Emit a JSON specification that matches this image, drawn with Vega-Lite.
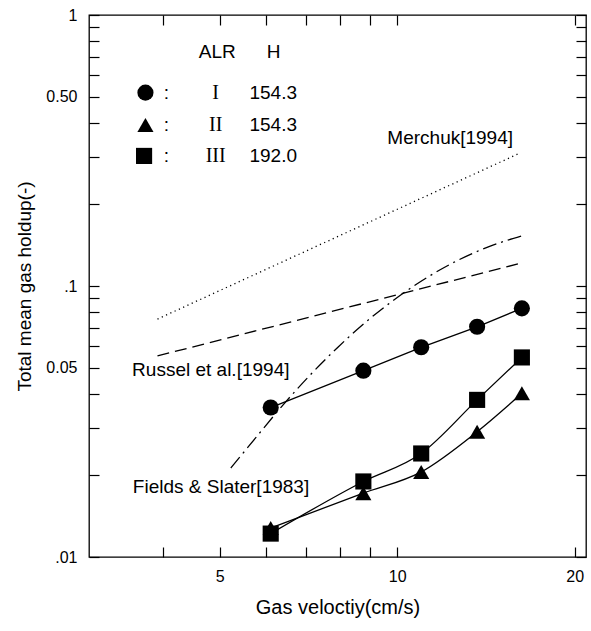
{
  "$schema": "https://vega.github.io/schema/vega-lite/v6.json",
  "width": 497,
  "height": 542,
  "autosize": {"type": "none"},
  "padding": {"left": 89, "top": 15, "right": 5, "bottom": 74},
  "background": "white",
  "config": {
    "view": {"stroke": "black", "strokeWidth": 1.3},
    "font": "Liberation Sans",
    "axis": {"grid": false, "domain": false, "tickColor": "black", "labelColor": "black", "titleColor": "black", "titleFontWeight": "normal", "labelFont": "Liberation Sans", "titleFont": "Liberation Sans", "tickWidth": 1.2}
  },
  "datasets": {
    "refs": [
      {"series": "Merchuk", "x": 3.92, "y": 0.0755},
      {"series": "Merchuk", "x": 16.16, "y": 0.3096},
      {"series": "Russel", "x": 3.92, "y": 0.0552},
      {"series": "Russel", "x": 16.33, "y": 0.1219},
      {"series": "Fields", "x": 5.22, "y": 0.0213},
      {"series": "Fields", "x": 5.75, "y": 0.0275},
      {"series": "Fields", "x": 6.31, "y": 0.0351},
      {"series": "Fields", "x": 7.08, "y": 0.0464},
      {"series": "Fields", "x": 7.94, "y": 0.0596},
      {"series": "Fields", "x": 8.91, "y": 0.0746},
      {"series": "Fields", "x": 10.0, "y": 0.0907},
      {"series": "Fields", "x": 11.22, "y": 0.1073},
      {"series": "Fields", "x": 12.59, "y": 0.1235},
      {"series": "Fields", "x": 14.13, "y": 0.1383},
      {"series": "Fields", "x": 16.26, "y": 0.1529}
    ],
    "points": [
      {"series": "I", "x": 6.1, "y": 0.0356},
      {"series": "I", "x": 8.76, "y": 0.0487},
      {"series": "I", "x": 10.98, "y": 0.0594},
      {"series": "I", "x": 13.66, "y": 0.0707},
      {"series": "I", "x": 16.27, "y": 0.0827},
      {"series": "II", "x": 6.1, "y": 0.0128},
      {"series": "II", "x": 8.76, "y": 0.0172},
      {"series": "II", "x": 10.98, "y": 0.0206},
      {"series": "II", "x": 13.66, "y": 0.029},
      {"series": "II", "x": 16.27, "y": 0.0402},
      {"series": "III", "x": 6.1, "y": 0.0122},
      {"series": "III", "x": 8.76, "y": 0.019},
      {"series": "III", "x": 10.98, "y": 0.0241},
      {"series": "III", "x": 13.66, "y": 0.038},
      {"series": "III", "x": 16.27, "y": 0.0545}
    ],
    "keys": [
      {"series": "I", "x": 3.74, "y": 0.517},
      {"series": "II", "x": 3.74, "y": 0.393},
      {"series": "III", "x": 3.72, "y": 0.302}
    ],
    "notes": [
      {"group": "left", "text": "Merchuk[1994]", "x": 9.62, "y": 0.351},
      {"group": "left", "text": "Russel et al.[1994]", "x": 3.55, "y": 0.049},
      {"group": "left", "text": "Fields & Slater[1983]", "x": 3.56, "y": 0.0181},
      {"group": "center", "text": "ALR", "x": 4.95, "y": 0.732},
      {"group": "center", "text": "H", "x": 6.17, "y": 0.732},
      {"group": "center", "text": ":", "x": 4.06, "y": 0.517},
      {"group": "center", "text": ":", "x": 4.06, "y": 0.393},
      {"group": "center", "text": ":", "x": 4.06, "y": 0.302},
      {"group": "center", "text": "154.3", "x": 6.16, "y": 0.517},
      {"group": "center", "text": "154.3", "x": 6.16, "y": 0.393},
      {"group": "center", "text": "192.0", "x": 6.16, "y": 0.302},
      {"group": "serif", "text": "I", "x": 4.92, "y": 0.517},
      {"group": "serif", "text": "II", "x": 4.92, "y": 0.393},
      {"group": "serif", "text": "III", "x": 4.92, "y": 0.302}
    ]
  },
  "resolve": {"axis": {"x": "independent", "y": "independent"}},
  "layer": [
    {
      "data": {"name": "refs"},
      "mark": {"type": "line", "interpolate": "monotone", "color": "black", "strokeWidth": 1.3},
      "encoding": {
        "x": {
          "field": "x", "type": "quantitative",
          "scale": {"type": "log", "domain": [3, 20.9], "nice": false},
          "axis": {
            "orient": "bottom", "values": [4, 5, 6, 7, 8, 9, 10, 20],
            "labelExpr": "datum.value == 5 ? '5' : datum.value == 10 ? '10' : datum.value == 20 ? '20' : ''",
            "tickSize": -10, "labelPadding": 21, "labelFontSize": 16,
            "title": "Gas veloctiy(cm/s)", "titleFontSize": 20, "titleBaseline": "middle", "titleY": 50
          }
        },
        "y": {
          "field": "y", "type": "quantitative",
          "scale": {"type": "log", "domain": [0.01, 1], "nice": false},
          "axis": {
            "orient": "left", "values": [0.01, 0.02, 0.03, 0.04, 0.05, 0.06, 0.07, 0.08, 0.09, 0.1, 0.2, 0.3, 0.4, 0.5, 0.6, 0.7, 0.8, 0.9, 1],
            "labelExpr": "datum.value == 1 ? '1' : datum.value == 0.5 ? '0.50' : datum.value == 0.1 ? '.1' : datum.value == 0.05 ? '0.05' : datum.value == 0.01 ? '.01' : ''",
            "tickSize": -10, "labelPadding": 22, "labelFontSize": 16,
            "title": "Total mean gas holdup(-)", "titleFontSize": 19, "titleBaseline": "middle", "titleX": -65, "titleY": 271
          }
        },
        "detail": {"field": "series"},
        "strokeDash": {
          "field": "series", "type": "nominal",
          "scale": {"domain": ["Merchuk", "Russel", "Fields"], "range": [[1.2, 3.5], [12, 6], [14, 5, 2, 5]]},
          "legend": null
        }
      }
    },
    {
      "data": {"name": "points"},
      "transform": [{"filter": "datum.series == 'I'"}],
      "mark": {"type": "line", "color": "black", "strokeWidth": 1.3},
      "encoding": {
        "x": {"field": "x", "type": "quantitative", "axis": null},
        "y": {"field": "y", "type": "quantitative", "axis": null}
      }
    },
    {
      "data": {"name": "points"},
      "transform": [{"filter": "datum.series != 'I'"}],
      "mark": {"type": "line", "interpolate": "monotone", "color": "black", "strokeWidth": 1.3},
      "encoding": {
        "x": {"field": "x", "type": "quantitative", "axis": null},
        "y": {"field": "y", "type": "quantitative", "axis": null},
        "detail": {"field": "series"}
      }
    },
    {
      "data": {"name": "points"},
      "mark": {"type": "point", "filled": true, "color": "black", "opacity": 1, "size": 260},
      "encoding": {
        "x": {
          "field": "x", "type": "quantitative",
          "axis": {"orient": "top", "values": [4, 5, 6, 7, 8, 9, 10, 20], "labels": false, "tickSize": -10, "title": null}
        },
        "y": {
          "field": "y", "type": "quantitative",
          "axis": {"orient": "right", "values": [0.01, 0.02, 0.03, 0.04, 0.05, 0.06, 0.07, 0.08, 0.09, 0.1, 0.2, 0.3, 0.4, 0.5, 0.6, 0.7, 0.8, 0.9, 1], "labels": false, "tickSize": -10, "title": null}
        },
        "shape": {
          "field": "series", "type": "nominal",
          "scale": {"domain": ["I", "II", "III"], "range": ["circle", "triangle-up", "square"]},
          "legend": null
        }
      }
    },
    {
      "data": {"name": "keys"},
      "mark": {"type": "point", "filled": true, "color": "black", "opacity": 1, "size": 260},
      "encoding": {
        "x": {"field": "x", "type": "quantitative", "axis": null},
        "y": {"field": "y", "type": "quantitative", "axis": null},
        "shape": {"field": "series", "type": "nominal", "legend": null}
      }
    },
    {
      "data": {"name": "notes"},
      "transform": [{"filter": "datum.group == 'left'"}],
      "mark": {"type": "text", "align": "left", "baseline": "middle", "fontSize": 19, "font": "Liberation Sans", "color": "black"},
      "encoding": {
        "x": {"field": "x", "type": "quantitative", "axis": null},
        "y": {"field": "y", "type": "quantitative", "axis": null},
        "text": {"field": "text"}
      }
    },
    {
      "data": {"name": "notes"},
      "transform": [{"filter": "datum.group == 'center'"}],
      "mark": {"type": "text", "align": "center", "baseline": "middle", "fontSize": 19, "font": "Liberation Sans", "color": "black"},
      "encoding": {
        "x": {"field": "x", "type": "quantitative", "axis": null},
        "y": {"field": "y", "type": "quantitative", "axis": null},
        "text": {"field": "text"}
      }
    },
    {
      "data": {"name": "notes"},
      "transform": [{"filter": "datum.group == 'serif'"}],
      "mark": {"type": "text", "align": "center", "baseline": "middle", "fontSize": 20, "font": "Liberation Serif", "color": "black"},
      "encoding": {
        "x": {"field": "x", "type": "quantitative", "axis": null},
        "y": {"field": "y", "type": "quantitative", "axis": null},
        "text": {"field": "text"}
      }
    }
  ]
}
